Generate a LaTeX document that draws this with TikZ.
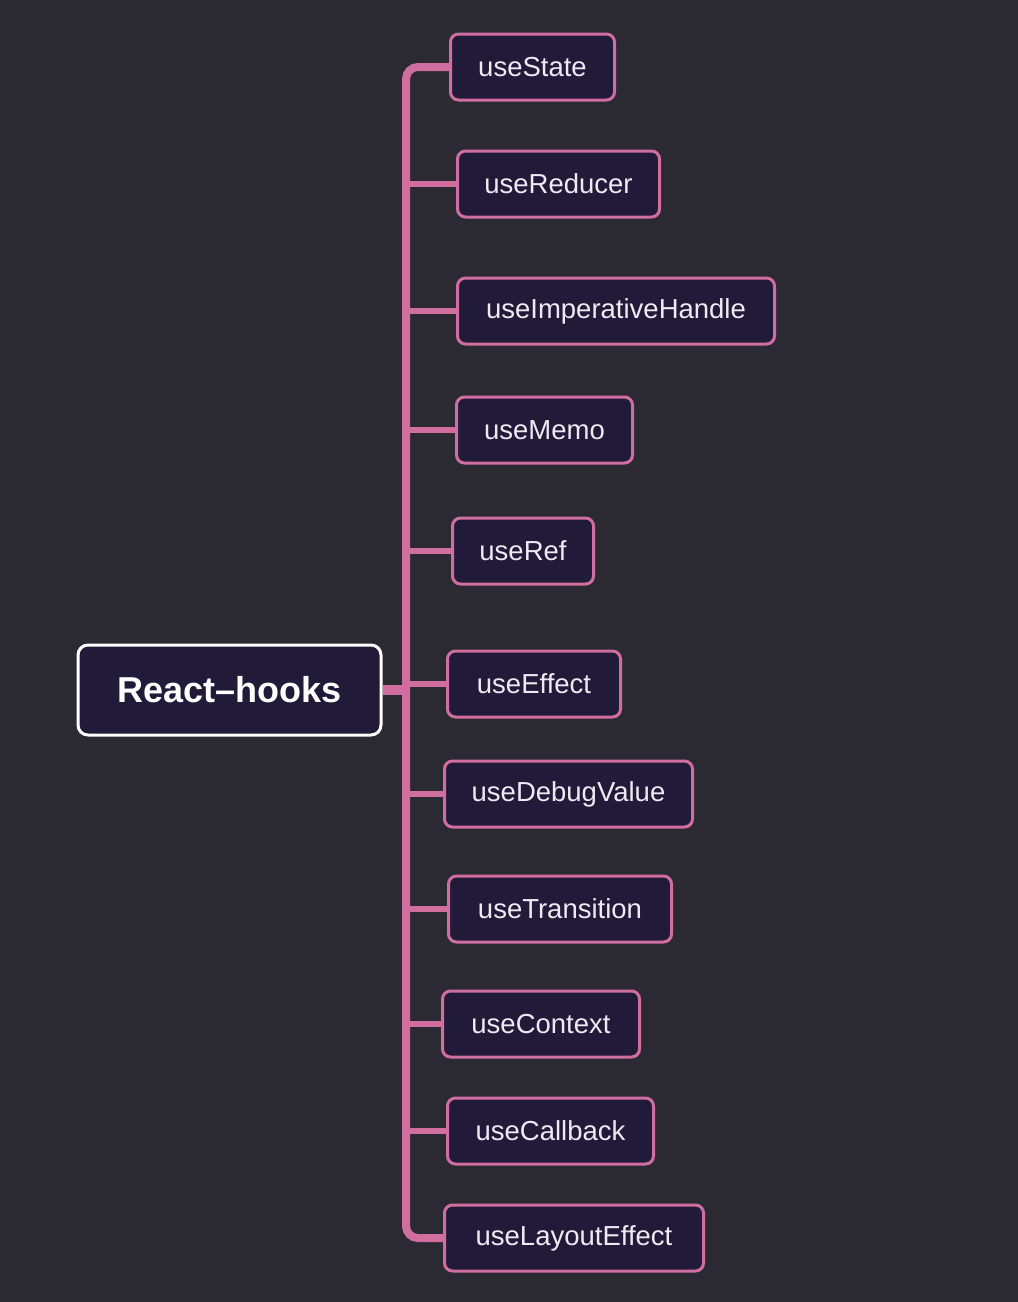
\documentclass[tikz,border=0pt]{standalone}
\usepackage{fontspec}
\setmainfont{Liberation Sans}
\definecolor{bgc}{HTML}{2B2A33}
\definecolor{nodefill}{HTML}{211A38}
\definecolor{pinkc}{HTML}{D06E9F}
\definecolor{txtc}{HTML}{EEEAF2}
\pgfdeclarelayer{bg}
\pgfsetlayers{bg,main}
\begin{document}
\begin{tikzpicture}[x=1pt,y=-1pt,
  child/.style={draw=pinkc,line width=3pt,fill=nodefill,rounded corners=8pt,
    anchor=west,minimum height=66pt,inner sep=0pt,text=txtc,
    font=\fontsize{27.5}{30}\selectfont},
  rootnode/.style={draw=white,line width=3pt,fill=nodefill,rounded corners=10pt,
    minimum width=303pt,minimum height=90pt,inner sep=0pt,text=white,
    font=\fontsize{36}{40}\selectfont\bfseries},
  trunk/.style={draw=pinkc,line width=8pt,rounded corners=12pt},
  branch/.style={draw=pinkc,line width=6pt},
  rootlink/.style={draw=pinkc,line width=10pt}]
\begin{pgfonlayer}{bg}
\fill[bgc] (0,0) rectangle (1018,1302);
\end{pgfonlayer}
\useasboundingbox (0,0) rectangle (1018,1302);
\node[rootnode] (root) at (229.5,690) {React–hooks};
\node[child,minimum width=164pt] (n1) at (449,67) {useState};
\node[child,minimum width=202pt] (n2) at (456,184) {useReducer};
\node[child,minimum width=317pt] (n3) at (456,311) {useImperativeHandle};
\node[child,minimum width=176pt] (n4) at (455,430) {useMemo};
\node[child,minimum width=141pt] (n5) at (451,551) {useRef};
\node[child,minimum width=173pt] (n6) at (446,684) {useEffect};
\node[child,minimum width=248pt] (n7) at (443,794) {useDebugValue};
\node[child,minimum width=223pt] (n8) at (447,909) {useTransition};
\node[child,minimum width=197pt] (n9) at (441,1024) {useContext};
\node[child,minimum width=206pt] (n10) at (446,1131) {useCallback};
\node[child,minimum width=259pt] (n11) at (443,1238) {useLayoutEffect};
\coordinate (tx) at (406,0);
\begin{pgfonlayer}{bg}
\foreach \n in {n2,n3,n4,n5,n6,n7,n8,n9,n10}
  \draw[branch] (tx |- \n.west) -- (\n.west);
\draw[rootlink] (root.east) -- (tx |- root.east);
\draw[trunk] (n1.west) -| (tx |- n11.west) -- (n11.west);
\end{pgfonlayer}
\end{tikzpicture}
\end{document}
